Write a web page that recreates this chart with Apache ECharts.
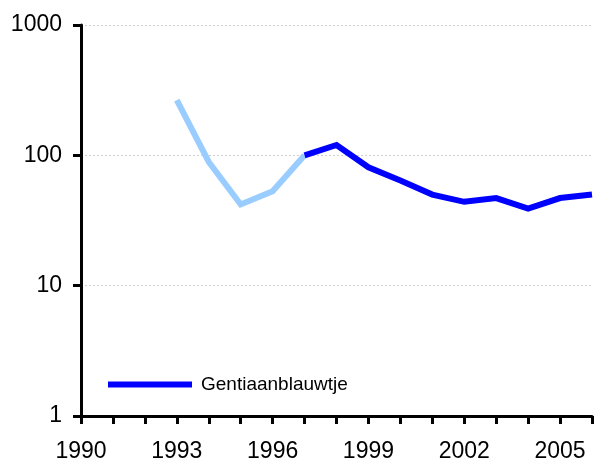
<!DOCTYPE html>
<html><head><meta charset="utf-8">
<script src="https://cdn.jsdelivr.net/npm/echarts@6/dist/echarts.min.js"></script>
<style>html,body{margin:0;padding:0;background:#fff}#c{width:595px;height:463px}</style>
</head><body><div id="c"></div>
<script>
var yearsLight = [1993, 1994, 1995, 1996, 1997];
var valuesLight = [265, 89, 42, 53, 100];
var yearsDark = [1997, 1998, 1999, 2000, 2001, 2002, 2003, 2004, 2005, 2006];
var valuesDark = [100, 120, 81, 64, 50, 44, 47, 39, 47, 50];
var yTicks = [1, 10, 100, 1000];
var seriesName = 'Gentiaanblauwtje';

function pairs(xs, ys){ return xs.map(function(x,i){ return [x, ys[i]]; }); }

var chart = echarts.init(document.getElementById('c'));
chart.setOption({
  animation: false,
  grid: {left: 81, top: 25, bottom: 47, right: -7, containLabel: false},
  legend: {
    data: [{name: seriesName, icon: 'rect'}],
    left: 103, top: 370, itemWidth: 84, itemHeight: 6, itemGap: 9,
    textStyle: {fontFamily: 'Liberation Sans', fontSize: 19, color: '#000', padding: [0, 0, 0, 4]}
  },
  xAxis: {
    type: 'value', min: 1990, max: 2006, interval: 1,
    axisLine: {lineStyle: {color: '#000', width: 3}},
    axisTick: {show: true, length: 8, lineStyle: {color: '#000', width: 3}},
    axisLabel: {
      color: '#000', fontFamily: 'Liberation Sans', fontSize: 23, margin: 24,
      formatter: function(v){ return ((v - 1990) % 3 === 0) ? String(v) : ''; }
    },
    splitLine: {show: false}
  },
  yAxis: {
    type: 'log', logBase: 10, min: 1, max: 1000,
    axisLine: {show: true, lineStyle: {color: '#000', width: 3}},
    axisTick: {show: true, inside: false, length: 8, lineStyle: {color: '#000', width: 3}},
    minorTick: {show: false},
    axisLabel: {color: '#000', fontFamily: 'Liberation Sans', fontSize: 23, margin: 19,
      formatter: function(v){ return yTicks.indexOf(Math.round(v)) >= 0 ? String(Math.round(v)) : ''; }},
    splitLine: {show: true, lineStyle: {color: '#d0d0d0', type: [2, 2], width: 1}}
  },
  series: [
    {
      name: 'light', type: 'line', data: pairs(yearsLight, valuesLight),
      showSymbol: false, symbol: 'none',
      lineStyle: {color: '#99CCFF', width: 6, cap: 'butt', join: 'miter'},
      itemStyle: {color: '#99CCFF'}, z: 2
    },
    {
      name: seriesName, type: 'line', data: pairs(yearsDark, valuesDark),
      showSymbol: false, symbol: 'none',
      lineStyle: {color: '#0000FF', width: 6, cap: 'butt', join: 'miter'},
      itemStyle: {color: '#0000FF'}, z: 3
    }
  ]
});
</script></body></html>
